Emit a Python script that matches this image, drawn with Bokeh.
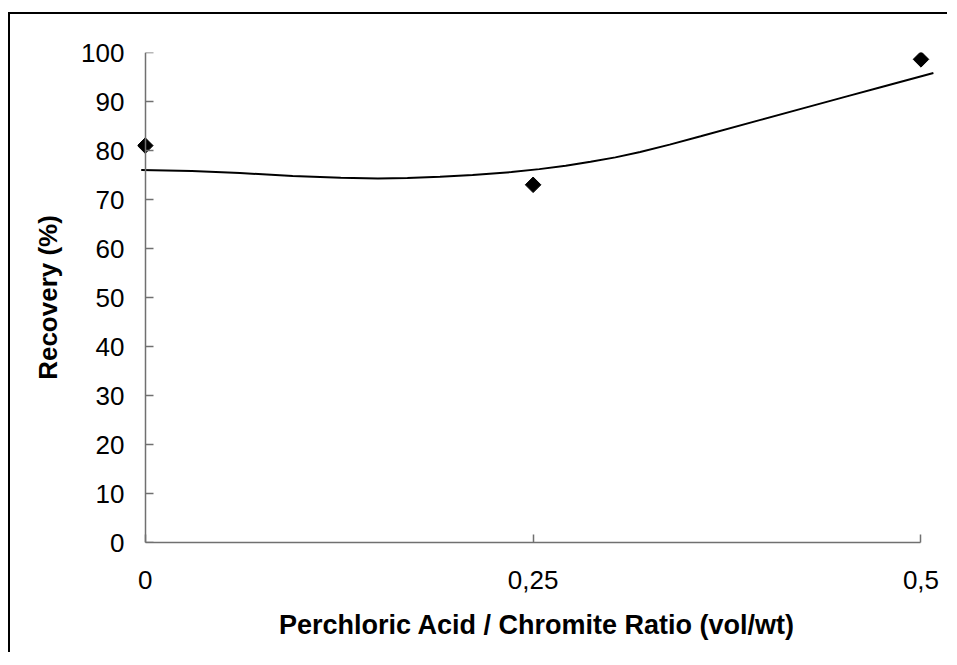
from bokeh.plotting import figure
from bokeh.models import Range1d, FixedTicker, CustomJSTickFormatter, LinearAxis
from bokeh.embed import file_html
from bokeh.resources import INLINE
import math

# data
ratio = [0.0, 0.25, 0.5]
recovery = [81.0, 73.0, 98.6]

curve_x = [-0.0026, 0.03, 0.061, 0.095, 0.126, 0.15, 0.169, 0.19, 0.211, 0.236, 0.254,
           0.271, 0.287, 0.303, 0.319, 0.338, 0.358, 0.396, 0.425, 0.454, 0.474, 0.508]
curve_y = [76.0, 75.8, 75.4, 74.8, 74.45, 74.3, 74.4, 74.65, 75.0, 75.6, 76.2,
           76.9, 77.7, 78.6, 79.7, 81.2, 82.9, 86.2, 88.7, 91.2, 92.9, 95.8]

x_ticks = [0, 0.25, 0.5]
y_ticks = list(range(0, 101, 10))

FONT = "Liberation Sans"
AX_COLOR = "#707070"

p = figure(width=939, height=640, output_backend="svg", toolbar_location=None,
           x_range=Range1d(-0.005, 0.51), y_range=Range1d(0, 100),
           min_border_left=127, min_border_right=13, min_border_top=38, min_border_bottom=112,
           styles={"border-left": "2px solid #000", "border-top": "2px solid #000",
                   "margin-left": "8px", "margin-top": "12px"})
p.outline_line_color = None
p.xgrid.visible = False
p.ygrid.visible = False
p.background_fill_color = "white"
p.border_fill_color = "white"

p.line(curve_x, curve_y, line_color="black", line_width=2)
p.scatter(ratio, recovery, marker="square", angle=math.pi / 4, size=11,
          fill_color="black", line_color="black")

xa = p.xaxis[0]
xa.ticker = FixedTicker(ticks=x_ticks)
xa.formatter = CustomJSTickFormatter(code="return tick == 0 ? '0' : String(tick).replace('.', ',');")
xa.bounds = (0, 0.5)
xa.axis_label = "Perchloric Acid / Chromite Ratio (vol/wt)"

# y axis line + inward ticks at x = 0
ya = p.yaxis[0]
ya.ticker = FixedTicker(ticks=y_ticks)
ya.fixed_location = 0
ya.major_label_text_alpha = 0

# y labels and title in the left panel
yl = LinearAxis(ticker=FixedTicker(ticks=y_ticks), axis_label="Recovery (%)")
yl.axis_line_color = None
yl.major_tick_line_color = None
p.add_layout(yl, "left")

for ax in (xa, ya, yl):
    ax.minor_tick_line_color = None
    ax.major_label_text_font = FONT
    ax.major_label_text_font_size = "26px"
    ax.major_label_text_color = "black"
    ax.axis_label_text_font = FONT
    ax.axis_label_text_font_size = "27px"
    ax.axis_label_text_font_style = "bold"
    ax.axis_label_text_color = "black"

yl.axis_label_text_font_size = "26px"

for ax in (xa, ya):
    ax.axis_line_color = AX_COLOR
    ax.axis_line_width = 1.5
    ax.major_tick_line_color = AX_COLOR
    ax.major_tick_line_width = 1.5
    ax.major_tick_in = 8
    ax.major_tick_out = 0

yl.major_tick_in = 0
yl.major_tick_out = 0
yl.major_label_standoff = 13
yl.axis_label_standoff = 15
xa.major_label_standoff = 28
xa.axis_label_standoff = 18

open("out.html", "w").write(file_html(p, INLINE))
